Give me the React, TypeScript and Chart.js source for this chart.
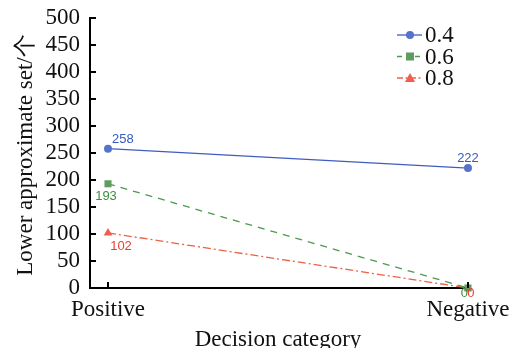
import React, { useEffect, useRef } from "react";
import { Chart, registerables } from "chart.js";

Chart.register(...registerables);

const categories = ["Positive", "Negative"];
const series04 = [258, 222];
const series06 = [193, 0];
const series08 = [102, 0];
const seriesNames = ["0.4", "0.6", "0.8"];
const yTicks = [0, 50, 100, 150, 200, 250, 300, 350, 400, 450, 500];

const SERIF = '"Liberation Serif", "Times New Roman", serif';
const SANS = '"Liberation Sans", Arial, sans-serif';

const BLUE_LINE = "#3f5bbd";
const BLUE_MARK = "#5673c9";
const BLUE_TEXT = "#3459c0";
const GREEN_LINE = "#4c9a4c";
const GREEN_MARK = "#5f9c5f";
const GREEN_TEXT = "#3e8d3e";
const RED_LINE = "#ee6046";
const RED_MARK = "#ef5e4e";
const RED_TEXT = "#ea3e34";

// offsets for value labels [dx, dy, align] per series per point (styling)
const labelStyle = [
  { color: BLUE_TEXT, offs: [[4, -9, "left"], [0, -10, "center"]] },
  { color: GREEN_TEXT, offs: [[-2, 13, "center"], [-3.5, 5, "center"]] },
  { color: RED_TEXT, offs: [[13, 14, "center"], [3, 5, "center"]] },
];

const extrasPlugin = {
  id: "extras",
  afterDraw(chart: any) {
    const ctx = chart.ctx;
    const area = chart.chartArea;
    const xs = chart.scales.x;
    const ys = chart.scales.y;
    ctx.save();
    // inward tick marks
    ctx.strokeStyle = "#000";
    ctx.lineWidth = 2;
    yTicks.forEach((v) => {
      const y = Math.round(ys.getPixelForValue(v)) + 0.0;
      ctx.beginPath();
      ctx.moveTo(area.left, y);
      ctx.lineTo(area.left + 6, y);
      ctx.stroke();
    });
    categories.forEach((_, i) => {
      const x = Math.round(xs.getPixelForValue(i));
      ctx.beginPath();
      ctx.moveTo(x, area.bottom);
      ctx.lineTo(x, area.bottom - 6);
      ctx.stroke();
    });

    // value labels
    ctx.font = `13px ${SANS}`;
    ctx.textBaseline = "middle";
    chart.data.datasets.forEach((ds: any, di: number) => {
      const meta = chart.getDatasetMeta(di);
      meta.data.forEach((pt: any, pi: number) => {
        const st = labelStyle[di];
        const [dx, dy, al] = st.offs[pi] as any;
        ctx.fillStyle = st.color;
        ctx.textAlign = al;
        ctx.fillText(String(ds.data[pi].y), pt.x + dx, pt.y + dy);
      });
    });

    // axis titles
    ctx.fillStyle = "#111";
    ctx.font = `23px ${SERIF}`;
    ctx.textAlign = "center";
    ctx.textBaseline = "alphabetic";
    ctx.fillText("Decision category", 278, 346);
    ctx.save();
    ctx.translate(32, 155);
    ctx.rotate(-Math.PI / 2);
    ctx.fillText("Lower approximate set/个", 0, 0);
    ctx.restore();

    // legend
    const rows = [
      { c: BLUE_LINE, m: BLUE_MARK, dash: [] as number[], shape: "circle" },
      { c: GREEN_LINE, m: GREEN_MARK, dash: [5, 4], shape: "rect" },
      { c: RED_LINE, m: RED_MARK, dash: [6, 2.5, 2, 2.5], shape: "triangle" },
    ];
    rows.forEach((r, i) => {
      const cy = 35 + i * 21.5;
      ctx.strokeStyle = r.c;
      ctx.lineWidth = 1.3;
      ctx.setLineDash(r.dash);
      ctx.beginPath();
      ctx.moveTo(397, cy);
      ctx.lineTo(422, cy);
      ctx.stroke();
      ctx.setLineDash([]);
      ctx.fillStyle = r.m;
      if (r.shape === "circle") {
        ctx.beginPath();
        ctx.arc(410, cy, 4, 0, Math.PI * 2);
        ctx.fill();
      } else if (r.shape === "rect") {
        ctx.fillRect(406, cy - 4, 8, 8);
      } else {
        ctx.beginPath();
        ctx.moveTo(410, cy - 5);
        ctx.lineTo(415, cy + 4);
        ctx.lineTo(405, cy + 4);
        ctx.closePath();
        ctx.fill();
      }
      ctx.fillStyle = "#111";
      ctx.font = `23px ${SERIF}`;
      ctx.textAlign = "left";
      ctx.textBaseline = "alphabetic";
      ctx.fillText(seriesNames[i], 425, cy + 7);
    });
    ctx.restore();
  },
};

export default function App() {
  const ref = useRef<HTMLCanvasElement | null>(null);
  useEffect(() => {
    document.body.style.margin = "0";
    const toPts = (arr: number[]) => arr.map((v, i) => ({ x: i, y: v }));
    const chart = new Chart(ref.current as HTMLCanvasElement, {
      type: "line",
      data: {
        datasets: [
          {
            label: seriesNames[0],
            data: toPts(series04),
            borderColor: BLUE_LINE,
            backgroundColor: BLUE_MARK,
            borderWidth: 1.3,
            pointStyle: "circle",
            pointRadius: 4,
            pointBorderWidth: 0,
            pointBackgroundColor: BLUE_MARK,
          },
          {
            label: seriesNames[1],
            data: toPts(series06),
            borderColor: GREEN_LINE,
            backgroundColor: GREEN_MARK,
            borderWidth: 1.3,
            borderDash: [7, 6],
            pointStyle: "rect",
            pointRadius: 5,
            pointBorderWidth: 0,
            pointBackgroundColor: GREEN_MARK,
          },
          {
            label: seriesNames[2],
            data: toPts(series08),
            borderColor: RED_LINE,
            backgroundColor: RED_MARK,
            borderWidth: 1.3,
            borderDash: [8, 3, 2, 3],
            pointStyle: "triangle",
            pointRadius: 5,
            pointBorderWidth: 0,
            pointBackgroundColor: RED_MARK,
          },
        ],
      },
      options: {
        animation: false,
        responsive: false,
        clip: false as any,
        layout: { padding: { top: 18, right: 50, left: 0, bottom: 0 }, autoPadding: false },
        plugins: { legend: { display: false }, tooltip: { enabled: false } },
        scales: {
          x: {
            type: "linear",
            min: -0.05,
            max: 1.0056,
            afterBuildTicks: (s: any) => {
              s.ticks = categories.map((_, i) => ({ value: i }));
            },
            afterFit: (s: any) => {
              s.height = 60;
            },
            grid: { display: false },
            border: { display: true, color: "#000", width: 2 },
            ticks: {
              color: "#111",
              font: { family: SERIF, size: 23 },
              padding: 0,
              maxRotation: 0,
              autoSkip: false,
              callback: (v: any) => categories[Math.round(Number(v))] ?? "",
            },
          },
          y: {
            type: "linear",
            min: 0,
            max: 500,
            afterBuildTicks: (s: any) => {
              s.ticks = yTicks.map((v) => ({ value: v }));
            },
            afterFit: (s: any) => {
              s.width = 90;
            },
            grid: { display: false },
            border: { display: true, color: "#000", width: 2 },
            ticks: {
              color: "#111",
              font: { family: SERIF, size: 23 },
              padding: 2,
              autoSkip: false,
            },
          },
        },
      },
      plugins: [extrasPlugin],
    });
    return () => chart.destroy();
  }, []);
  return <canvas ref={ref} width={520} height={348} style={{ display: "block" }} />;
}
